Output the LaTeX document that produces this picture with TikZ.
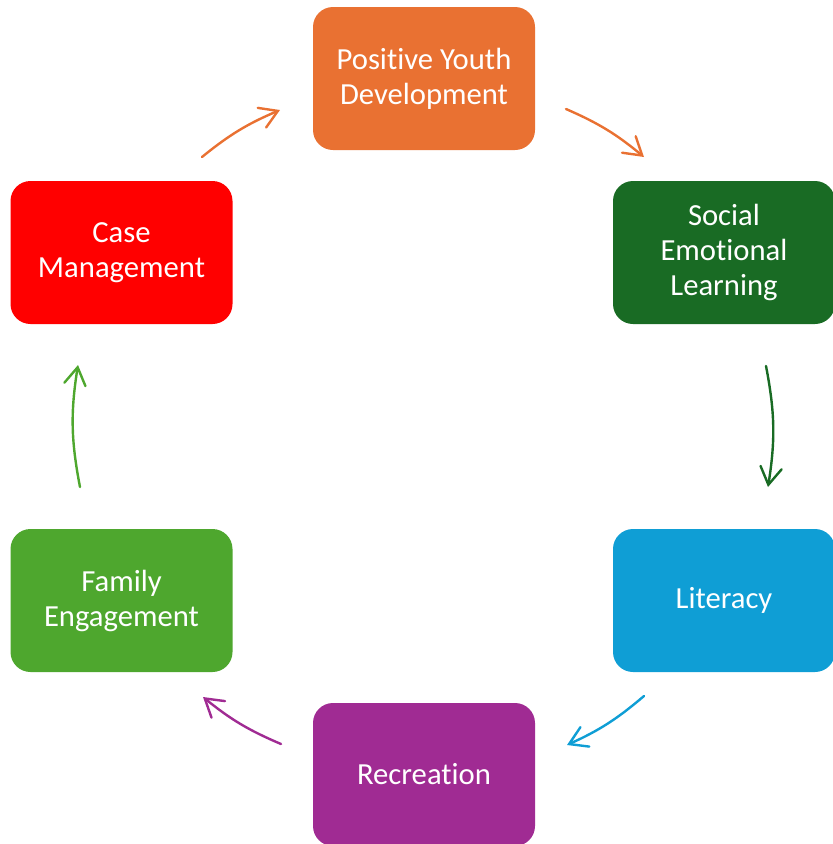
\documentclass[tikz,border=0pt]{standalone}
\usepackage{fontspec}
\setmainfont[Ligatures={NoCommon}]{Carlito}
\usetikzlibrary{arrows.meta}
\definecolor{cOrange}{HTML}{E97132}
\definecolor{cDkGreen}{HTML}{196B24}
\definecolor{cBlue}{HTML}{0F9ED5}
\definecolor{cPurple}{HTML}{A02B93}
\definecolor{cGreen}{HTML}{4EA72E}
\definecolor{cRed}{HTML}{FF0000}
\tikzset{
  box/.style={rounded corners=15pt, minimum width=166.5pt, minimum height=107.25pt,
    inner sep=0pt, text=white, align=center, font=\fontsize{23}{26.25}\selectfont},
  cyc/.style={line width=1.8pt, line cap=round, -{Straight Barb[length=13pt,width=16pt,line cap=round]}},
}
\begin{document}
\begin{tikzpicture}[x=0.75pt,y=-0.75pt]
\useasboundingbox (0,0) rectangle (833,844);
\node[box, fill=cOrange] (pyd) at (424,78.5) {Positive Youth\\Development};
\node[box, fill=cDkGreen] (sel) at (724,252.5) {Social\\Emotional\\Learning};
\node[box, fill=cBlue] (lit) at (724,600.5) {Literacy};
\node[box, fill=cPurple] (rec) at (424,774.5) {Recreation};
\node[box, fill=cGreen] (fam) at (121.5,600.5) {Family\\Engagement};
\node[box, fill=cRed] (cm) at (121.5,252.5) {Case\\Management};

\coordinate (a1s) at (202,157); \coordinate (a1e) at (280,110);
\coordinate (a2s) at (566,109); \coordinate (a2e) at (644,157);
\coordinate (a3s) at (766,366); \coordinate (a3e) at (768,487);
\coordinate (a4s) at (644,696); \coordinate (a4e) at (567,745);
\coordinate (a5s) at (281,744); \coordinate (a5e) at (203,697);
\coordinate (a6s) at (80,487);  \coordinate (a6e) at (78,365);

\draw[cyc, cOrange] (a1s) to[bend left=8] (a1e);
\draw[cyc, cOrange] (a2s) to[bend left=8] (a2e);
\draw[cyc, cDkGreen] (a3s) to[bend left=10] (a3e);
\draw[cyc, cBlue] (a4s) to[bend left=8] (a4e);
\draw[cyc, cPurple] (a5s) to[bend left=8] (a5e);
\draw[cyc, cGreen] (a6s) to[bend left=10] (a6e);
\end{tikzpicture}
\end{document}
